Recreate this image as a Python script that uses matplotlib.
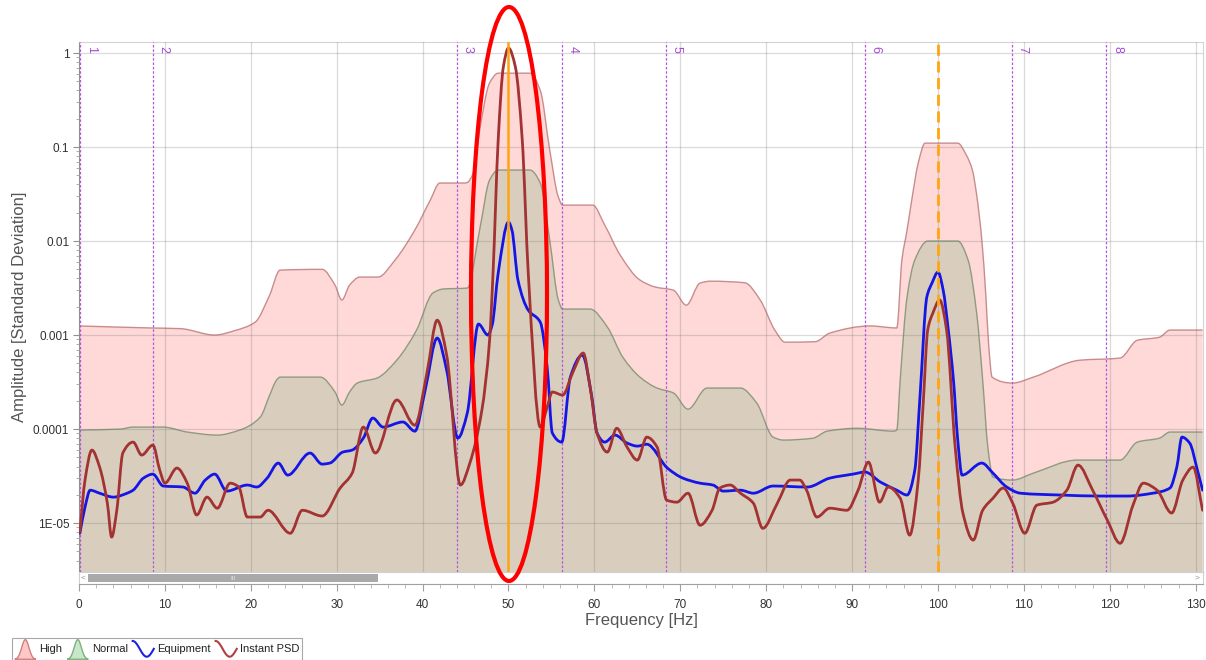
import numpy as np
import matplotlib
matplotlib.use("Agg")
import matplotlib.pyplot as plt
from matplotlib.patches import Ellipse, Rectangle, Polygon, PathPatch
from matplotlib.path import Path
from matplotlib.legend_handler import HandlerBase
from matplotlib.lines import Line2D
from matplotlib.ticker import FixedLocator, NullFormatter, LogLocator, MultipleLocator

plt.rcParams["font.family"] = ["Liberation Sans", "DejaVu Sans"]

# ---------------- data ----------------
high_freq = [0.0, 8.3, 11.8, 15.8, 18.2, 20.5, 22.2, 23.4, 28.3, 29.8, 30.6, 31.5, 32.7, 34.8, 36.8,
             39.1, 40.9, 42.0, 44.9, 45.2, 45.9, 46.7, 47.8, 48.8, 52.5, 53.7, 54.8, 55.8, 56.3, 59.8,
             61.2, 63.0, 65.3, 67.1, 69.2, 70.7, 72.3, 73.5, 77.5, 79.3, 81.0, 82.2, 85.7, 87.4, 92.1,
             95.2, 95.8, 96.4, 97.0, 97.7, 98.5, 102.3, 103.3, 104.0, 104.5, 105.1, 105.6, 105.9, 106.3,
             108.7, 111.1, 116.5, 121.2, 123.2, 125.8, 127.0, 130.8]
high_amp = [1.25e-3, 1.19e-3, 1.17e-3, 1.0e-3, 1.12e-3, 1.37e-3, 2.67e-3, 4.9e-3, 5.0e-3, 3.4e-3,
            2.36e-3, 3.4e-3, 4.14e-3, 4.14e-3, 6.3e-3, 0.0131, 0.0273, 0.0414, 0.0414, 0.042, 0.053,
            0.163, 0.48, 0.61, 0.61, 0.40, 0.093, 0.0294, 0.0241, 0.0241, 0.0148, 7.1e-3, 3.85e-3,
            3.24e-3, 3.0e-3, 2.08e-3, 3.57e-3, 3.74e-3, 3.6e-3, 2.36e-3, 1.13e-3, 8.4e-4, 8.5e-4,
            1.05e-3, 1.25e-3, 1.19e-3, 6.3e-3, 0.0131, 0.0294, 0.0676, 0.11, 0.11, 0.082, 0.057, 0.031,
            0.0103, 2.36e-3, 7.8e-4, 3.57e-4, 3.09e-4, 3.57e-4, 5.4e-4, 5.7e-4, 8.8e-4, 9.5e-4,
            1.13e-3, 1.13e-3]

normal_freq = [0.1, 4.8, 6.3, 9.8, 12.6, 16.1, 18.7, 21.1, 22.2, 23.0, 23.4, 28.1, 29.8, 30.6, 31.5,
               32.4, 34.7, 37.0, 39.3, 41.2, 42.4, 45.2, 46.7, 47.8, 48.8, 52.5, 53.7, 54.8, 55.8,
               56.3, 59.5, 61.5, 63.3, 65.3, 67.3, 69.2, 70.9, 73.1, 77.0, 78.9, 80.8, 82.0, 85.4,
               87.1, 90.6, 94.8, 95.2, 95.6, 96.4, 97.3, 98.8, 102.3, 103.5, 104.5, 105.2, 105.8,
               106.4, 108.7, 111.1, 116.2, 121.2, 123.2, 125.8, 127.0, 130.8]
normal_amp = [9.76e-5, 1.0e-4, 1.05e-4, 1.05e-4, 9.3e-5, 8.63e-5, 9.76e-5, 1.34e-4, 2.3e-4, 3.32e-4,
              3.57e-4, 3.57e-4, 2.48e-4, 1.8e-4, 2.48e-4, 3.09e-4, 3.49e-4, 5.42e-4, 1.13e-3, 2.8e-3,
              3.09e-3, 3.16e-3, 0.0141, 0.0446, 0.0569, 0.0569, 0.0414, 0.0102, 2.36e-3, 1.89e-3,
              1.89e-3, 1.22e-3, 5.83e-4, 3.57e-4, 2.73e-4, 2.42e-4, 1.63e-4, 2.73e-4, 2.73e-4,
              1.89e-4, 8.22e-5, 7.64e-5, 7.98e-5, 9.5e-5, 1.02e-4, 9.5e-5, 9.76e-5, 3.32e-4, 2.54e-3,
              6.28e-3, 0.01, 0.01, 6.28e-3, 1.71e-3, 3.32e-4, 6.44e-5, 3.09e-5, 2.87e-5, 3.4e-5,
              4.68e-5, 4.68e-5, 7.27e-5, 8.02e-5, 9.3e-5, 9.3e-5]

equip_freq = [0.1, 0.7, 1.3, 2.4, 4.0, 5.6, 6.3, 7.5, 8.6, 9.8, 12.1, 13.5, 14.7, 15.8, 17.2, 19.6,
              20.7, 21.9, 23.2, 24.3, 26.9, 28.3, 29.2, 30.7, 31.8, 33.1, 34.2, 35.4, 37.7, 39.1,
              40.3, 41.7, 42.8, 44.1, 45.2, 46.5, 47.6, 48.1, 48.8, 50.0, 50.4, 51.1, 52.3, 53.7,
              54.5, 55.1, 56.2, 57.2, 58.6, 59.7, 60.3, 61.2, 62.4, 63.8, 65.0, 66.1, 68.5, 70.3,
              72.3, 73.8, 75.0, 77.0, 78.5, 80.8, 84.8, 87.4, 90.1, 91.5, 93.3, 95.2, 96.4, 97.3,
              97.9, 98.7, 99.3, 100.0, 100.6, 101.2, 101.8, 102.3, 102.8, 105.1, 106.4, 108.0,
              109.6, 114.2, 118.9, 122.0, 125.0, 127.0, 127.8, 128.4, 129.3, 130.2, 130.8]
equip_amp = [7.8e-6, 1.48e-5, 2.24e-5, 2.08e-5, 1.89e-5, 2.08e-5, 2.24e-5, 3.01e-5, 3.32e-5, 2.48e-5,
             2.42e-5, 2.08e-5, 2.87e-5, 3.32e-5, 2.19e-5, 2.54e-5, 2.42e-5, 3.01e-5, 4.35e-5, 3.24e-5,
             5.56e-5, 4.24e-5, 4.35e-5, 5.69e-5, 5.98e-5, 8.02e-5, 1.31e-4, 1.05e-4, 1.19e-4, 9.5e-5,
             2.6e-4, 9.3e-4, 4.24e-4, 8.02e-5, 1.48e-4, 1.31e-3, 1.0e-3, 1.28e-3, 4.57e-3, 1.59e-2,
             1.31e-2, 3.85e-3, 1.84e-3, 1.37e-3, 4.57e-4, 9.1e-5, 7.27e-5, 3.57e-4, 6.13e-4, 2.19e-4,
             9.1e-5, 7.27e-5, 8.63e-5, 7.1e-5, 6.59e-5, 6.9e-5, 3.85e-5, 3.01e-5, 2.66e-5, 2.54e-5,
             2.19e-5, 2.24e-5, 2.08e-5, 2.48e-5, 2.42e-5, 3.01e-5, 3.32e-5, 3.49e-5, 2.73e-5, 2.24e-5,
             1.99e-5, 3.66e-5, 2.19e-4, 2.54e-3, 3.57e-3, 4.68e-3, 3.01e-3, 1.13e-3, 3.32e-4, 7.64e-5,
             3.24e-5, 4.35e-5, 3.4e-5, 2.42e-5, 2.08e-5, 1.99e-5, 1.94e-5, 1.94e-5, 2.08e-5, 2.36e-5,
             3.94e-5, 8.22e-5, 7.1e-5, 3.66e-5, 2.24e-5]

psd_freq = [0.1, 0.7, 1.5, 2.4, 3.3, 3.8, 4.4, 5.1, 6.3, 7.3, 8.6, 9.4, 10.0, 11.4, 12.6, 13.7, 14.9,
            16.1, 17.6, 18.6, 19.6, 21.1, 22.0, 24.6, 26.0, 28.3, 30.4, 31.8, 33.1, 34.5, 37.0, 39.1,
            40.5, 41.7, 42.8, 44.4, 45.5, 46.9, 47.8, 48.2, 48.8, 49.4, 50.0, 50.8, 51.6, 52.3, 53.7,
            54.5, 55.1, 56.3, 57.5, 58.7, 59.5, 60.3, 61.5, 62.6, 63.8, 65.0, 66.1, 67.3, 68.4, 69.6,
            70.9, 72.3, 73.7, 74.6, 75.8, 77.0, 78.5, 79.6, 81.3, 82.8, 83.9, 84.7, 85.9, 87.4, 89.4,
            90.7, 91.9, 93.2, 94.2, 95.6, 96.7, 97.7, 98.3, 98.8, 99.4, 100.2, 101.0, 102.0, 102.9,
            104.1, 105.2, 106.4, 107.6, 108.7, 110.1, 111.5, 113.4, 115.0, 116.3, 118.0, 119.7,
            121.2, 122.7, 123.9, 125.5, 127.2, 128.5, 129.7, 130.8]
psd_amp = [8.0e-6, 2.87e-5, 5.98e-5, 3.94e-5, 1.63e-5, 7.1e-6, 1.37e-5, 5.56e-5, 7.27e-5, 5.29e-5,
           6.76e-5, 3.66e-5, 2.66e-5, 3.85e-5, 2.66e-5, 1.22e-5, 1.89e-5, 1.44e-5, 2.66e-5, 2.42e-5,
           1.16e-5, 1.16e-5, 1.37e-5, 7.8e-6, 1.37e-5, 1.19e-5, 2.36e-5, 3.4e-5, 1.05e-4, 5.56e-5,
           2.04e-4, 1.1e-4, 3.94e-4, 1.44e-3, 6.13e-4, 2.54e-5, 4.35e-5, 1.59e-4, 8.85e-4, 4.57e-3,
           0.119, 0.71, 1.13, 0.71, 0.119, 4.57e-3, 1.05e-4, 1.71e-4, 2.48e-4, 2.3e-4, 4.04e-4,
           6.44e-4, 2.8e-4, 9.1e-5, 5.69e-5, 1.02e-4, 6.44e-5, 4.68e-5, 8.22e-5, 6.44e-5, 1.76e-5,
           1.67e-5, 2.08e-5, 9.5e-6, 1.37e-5, 2.36e-5, 2.54e-5, 2.08e-5, 1.63e-5, 8.8e-6, 1.63e-5,
           2.87e-5, 2.87e-5, 2.24e-5, 1.16e-5, 1.44e-5, 1.37e-5, 2.24e-5, 4.46e-5, 1.67e-5, 2.42e-5,
           1.84e-5, 7.45e-6, 2.87e-5, 2.04e-4, 1.13e-3, 1.71e-3, 2.36e-3, 1.13e-3, 6.44e-5, 1.28e-5,
           6.6e-6, 1.37e-5, 1.84e-5, 2.36e-5, 1.63e-5, 7.8e-6, 1.55e-5, 1.67e-5, 2.24e-5, 4.14e-5,
           2.24e-5, 1.08e-5, 6.1e-6, 1.55e-5, 2.66e-5, 2.24e-5, 1.28e-5, 2.87e-5, 3.94e-5, 1.37e-5]

marker_freq = [0.1, 8.6, 44.0, 56.2, 68.3, 91.5, 108.6, 119.6]
marker_labels = ["1", "2", "3", "4", "5", "6", "7", "8"]
harmonic_freq = [50, 100]
x_ticks = list(range(0, 131, 10))
y_ticks = [1e-5, 1e-4, 1e-3, 1e-2, 1e-1, 1]
y_tick_labels = ["1E-05", "0.0001", "0.001", "0.01", "0.1", "1"]
legend_labels = ["High", "Normal", "Equipment", "Instant PSD"]

# ---------------- styling ----------------
HIGH_FACE, HIGH_EDGE = "#FFD8D8", "#C98C8C"
NORM_FACE, NORM_EDGE = "#D9CEBD", "#8E9B80"
EQUIP_C = "#1515E6"
PSD_C = "#A33232"
MARK_C = "#B455DD"
ORANGE = "#FFA510"


def smooth_path(freq, amp, floor=None):
    """Monotone cubic (Bezier) path through the given points, built in log-amplitude
    space; matplotlib's log transform maps the control points back to display space."""
    x = np.asarray(freq, float)
    y = np.log10(np.asarray(amp, float))
    h = np.diff(x)
    d = np.diff(y) / h
    m = np.zeros_like(y)
    m[0], m[-1] = d[0], d[-1]
    for k in range(1, len(x) - 1):
        if d[k - 1] * d[k] > 0:
            w1 = 2 * h[k] + h[k - 1]
            w2 = h[k] + 2 * h[k - 1]
            m[k] = (w1 + w2) / (w1 / d[k - 1] + w2 / d[k])
    verts = [(x[0], y[0])]
    codes = [Path.MOVETO]
    for k in range(len(x) - 1):
        verts += [(x[k] + h[k] / 3, y[k] + m[k] * h[k] / 3),
                  (x[k + 1] - h[k] / 3, y[k + 1] - m[k + 1] * h[k] / 3),
                  (x[k + 1], y[k + 1])]
        codes += [Path.CURVE4] * 3
    verts = np.array(verts)
    verts[:, 1] = 10 ** verts[:, 1]
    if floor is not None:
        verts = np.vstack([verts, [[x[-1], floor], [x[0], floor], [x[0], floor]]])
        codes += [Path.LINETO, Path.LINETO, Path.CLOSEPOLY]
    return Path(verts, codes)


W, H = 1206, 660
fig = plt.figure(figsize=(W / 100, H / 100), dpi=100)
L, R, T, B = 79, 1203, 42, 572
ax = fig.add_axes([L / W, 1 - B / H, (R - L) / W, (B - T) / H])

XMAX = 130.85
YMIN, YMAX = 10 ** -5.52, 10 ** 0.117
ax.set_yscale("log")
ax.set_xlim(0, XMAX)
ax.set_ylim(YMIN, YMAX)

ax.add_patch(PathPatch(smooth_path(high_freq, high_amp, floor=1e-8), facecolor=HIGH_FACE,
                       edgecolor="none", zorder=1))
ax.add_patch(PathPatch(smooth_path(high_freq, high_amp), fill=False, edgecolor=HIGH_EDGE,
                       lw=1.0, zorder=1.1))
ax.add_patch(PathPatch(smooth_path(normal_freq, normal_amp, floor=1e-8), facecolor=NORM_FACE,
                       edgecolor="none", zorder=1.2))
ax.add_patch(PathPatch(smooth_path(normal_freq, normal_amp), fill=False, edgecolor=NORM_EDGE,
                       lw=1.0, zorder=1.3))

ax.xaxis.set_major_locator(FixedLocator(x_ticks))
ax.yaxis.set_major_locator(FixedLocator(y_ticks))
ax.set_yticklabels(y_tick_labels)
ax.yaxis.set_minor_locator(LogLocator(base=10, subs=np.arange(2, 10)))
ax.yaxis.set_minor_formatter(NullFormatter())
ax.grid(True, which="major", color="#7a7a7a", alpha=0.28, lw=0.9)
ax.set_axisbelow(False)

for f, lbl in zip(marker_freq, marker_labels):
    ax.axvline(f, color=MARK_C, ls=(0, (2, 1.5)), lw=0.9, zorder=4)
    ax.annotate(lbl, xy=(f, 1), xycoords=("data", "axes fraction"), xytext=(3.5, -3),
                textcoords="offset points", rotation=-90, ha="left", va="top",
                color="#A548D6", fontsize=9)

ax.add_patch(PathPatch(smooth_path(equip_freq, equip_amp), fill=False, edgecolor=EQUIP_C,
                       lw=2.0, zorder=5, joinstyle="round", capstyle="round"))
ax.add_patch(PathPatch(smooth_path(psd_freq, psd_amp), fill=False, edgecolor=PSD_C,
                       lw=2.0, zorder=6, joinstyle="round", capstyle="round"))

ax.axvline(harmonic_freq[0], color=ORANGE, lw=1.8, zorder=7)
ax.axvline(harmonic_freq[1], color=ORANGE, lw=2.0, ls=(0, (4, 2)), zorder=7)

ax.tick_params(axis="x", which="both", bottom=False, labelbottom=False)
ax.tick_params(axis="y", which="major", length=4, color="#909090", labelsize=8.5,
               labelcolor="#303030", pad=3)
ax.tick_params(axis="y", which="minor", length=2, color="#a0a0a0")
ax.spines["left"].set_color("#9a9a9a")
ax.spines["bottom"].set_visible(False)
for s in ("top", "right"):
    ax.spines[s].set_color("#d4d4d4")

ax.set_ylabel("Amplitude [Standard Deviation]", fontsize=12, color="#555555")
ax.yaxis.set_label_coords(-0.046, 0.5)

# ---------------- scroll bar / x axis ----------------
SB_T, SB_B = 572, 584
sax = fig.add_axes([L / W, 1 - SB_B / H, (R - L) / W, (SB_B - SB_T) / H])
sax.set_xlim(0, XMAX)
sax.set_ylim(0, 1)
sax.set_yticks([])
sax.xaxis.set_major_locator(FixedLocator(x_ticks))
sax.xaxis.set_minor_locator(MultipleLocator(2))
sax.tick_params(axis="x", which="major", length=5, color="#a0a0a0", labelsize=8.5,
                labelcolor="#333333", pad=6)
sax.tick_params(axis="x", which="minor", length=3, color="#b0b0b0")
for s in sax.spines.values():
    s.set_color("#cfcfcf")
    s.set_linewidth(0.8)
sax.spines["bottom"].set_color("#a0a0a0")
sax.add_patch(Rectangle(((88 - L) / (R - L), 0.2), (378 - 88) / (R - L), 0.6,
                        transform=sax.transAxes, facecolor="#a9a9a9", edgecolor="none"))
sax.text(0.004, 0.5, "<", transform=sax.transAxes, fontsize=6, color="#909090",
         ha="center", va="center")
sax.text(0.995, 0.5, ">", transform=sax.transAxes, fontsize=6, color="#909090",
         ha="center", va="center")
sax.text((233 - L) / (R - L), 0.5, "III", transform=sax.transAxes, fontsize=4.5,
         color="#e8e8e8", ha="center", va="center")

fig.text(641 / W, 1 - 620 / H, "Frequency [Hz]", fontsize=12, color="#555555",
         ha="center", va="center")

# ---------------- legend ----------------
class BellHandler(HandlerBase):
    def __init__(self, face, edge):
        super().__init__()
        self.face, self.edge = face, edge

    def create_artists(self, legend, orig_handle, xdescent, ydescent, width, height,
                       fontsize, trans):
        t = np.linspace(0, 1, 41)
        xs = -xdescent + t * width
        ys = -ydescent - 2 + (height + 3) * np.exp(-((t - 0.5) / 0.24) ** 2)
        return [Polygon(np.column_stack([xs, ys]), closed=True, facecolor=self.face,
                        edgecolor=self.edge, lw=1.0, transform=trans)]


class WaveHandler(HandlerBase):
    def __init__(self, color):
        super().__init__()
        self.color = color

    def create_artists(self, legend, orig_handle, xdescent, ydescent, width, height,
                       fontsize, trans):
        t = np.linspace(0, 1, 41)
        xs = -xdescent + t * width
        ys = -ydescent + height * (0.5 + 0.5 * np.cos(np.pi * 1.5 * t))
        return [Line2D(xs, ys, color=self.color, lw=1.5, transform=trans)]


h_high, h_norm = Rectangle((0, 0), 1, 1), Rectangle((0, 0), 1, 1)
h_eq, h_psd = Line2D([], []), Line2D([], [])
leg = fig.legend([h_high, h_norm, h_eq, h_psd], legend_labels,
                 handler_map={h_high: BellHandler("#FFC8C8", "#D08080"),
                              h_norm: BellHandler("#C8E6C8", "#80B080"),
                              h_eq: WaveHandler("#2020E0"),
                              h_psd: WaveHandler("#B04040")},
                 loc="lower left", bbox_to_anchor=(12 / W, 0.5 / H), ncol=4, fontsize=8,
                 frameon=True, fancybox=False, edgecolor="#a8a8a8", framealpha=1,
                 handlelength=1.9, handleheight=1.8, handletextpad=0.3, columnspacing=0.45,
                 borderpad=0.25, borderaxespad=0)
leg.get_frame().set_linewidth(0.8)
for txt in leg.get_texts():
    txt.set_color("#222222")

# ---------------- highlight ellipse ----------------
fig.add_artist(Ellipse((509 / W, 1 - 294 / H), 76 / W, 574 / H, transform=fig.transFigure,
                       fill=False, edgecolor="#FF0000", lw=3.0, zorder=20))

fig.savefig("out.png", dpi=100, facecolor="white")
